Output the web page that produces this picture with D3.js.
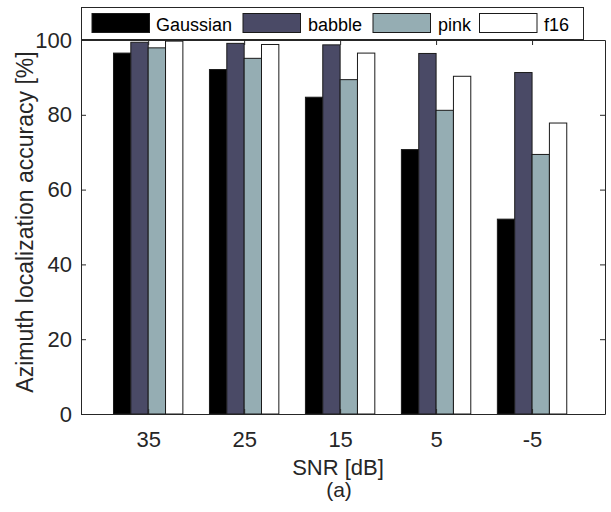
<!DOCTYPE html>
<html>
<head>
<meta charset="utf-8">
<script src="https://cdn.jsdelivr.net/npm/d3@7/dist/d3.min.js"></script>
<style>
  html, body { margin: 0; padding: 0; background: #fff; }
  svg { display: block; font-family: "Liberation Sans", Arial, sans-serif; }
</style>
</head>
<body>
<svg id="chart" width="611" height="512"></svg>
<script>
// SNR conditions (x categories) and accuracy per noise type, in percent
const snrLabels = ["35", "25", "15", "5", "-5"];
const seriesNames = ["Gaussian", "babble", "pink", "f16"];
const gaussian = [96.5, 92.1, 84.7, 70.7, 52.1];
const babble   = [99.4, 99.1, 98.7, 96.4, 91.3];
const pink     = [97.9, 95.1, 89.4, 81.2, 69.4];
const f16      = [99.7, 98.8, 96.5, 90.3, 77.8];
const yTicks   = [0, 20, 40, 60, 80, 100];

const seriesValues = [gaussian, babble, pink, f16];
const seriesFill = ["#000000", "#4a4a66", "#95adb3", "#ffffff"];

const svg = d3.select("#chart");
const axisColor = "#262626";

// plot box
const plotLeft = 81, plotRight = 605, plotTop = 40, plotBottom = 414;

// categories sit on integer positions; the x range leaves a wider gap on the right
const x = d3.scaleLinear().domain([0.3, 5.76]).range([plotLeft, plotRight]);
const y = d3.scaleLinear().domain([0, 100]).range([plotBottom, plotTop]);

const groupWidth = 0.723;              // fraction of category spacing filled by a group
const barW = groupWidth / seriesNames.length;

// bars
const g = svg.append("g");
seriesValues.forEach((vals, s) => {
  g.selectAll(null)
    .data(vals)
    .enter()
    .append("rect")
    .attr("x", (d, i) => x(i + 1 - groupWidth / 2 + s * barW))
    .attr("width", x(barW) - x(0))
    .attr("y", d => y(d))
    .attr("height", d => y(0) - y(d))
    .attr("fill", seriesFill[s])
    .attr("stroke", "#1a1a1a")
    .attr("stroke-width", 1);
});

// axes: box with inward ticks
const tickLen = 5;
const xAxisB = d3.axisBottom(x).tickValues(d3.range(1, 6)).tickFormat((d, i) => snrLabels[i]).tickSizeInner(-tickLen).tickSizeOuter(0).tickPadding(17);
const xAxisT = d3.axisTop(x).tickValues(d3.range(1, 6)).tickFormat("").tickSizeInner(-tickLen).tickSizeOuter(0);
const yAxisL = d3.axisLeft(y).tickValues(yTicks).tickSizeInner(-tickLen).tickSizeOuter(0).tickPadding(9);
const yAxisR = d3.axisRight(y).tickValues(yTicks).tickFormat("").tickSizeInner(-tickLen).tickSizeOuter(0);

function styleAxis(sel) {
  sel.selectAll("path").attr("stroke", axisColor).attr("stroke-width", 1);
  sel.selectAll("line").attr("stroke", axisColor).attr("stroke-width", 1);
  sel.selectAll("text").attr("fill", "#262626").style("font-size", "22px").style("font-family", "'Liberation Sans', Arial, sans-serif");
}

svg.append("g").attr("transform", `translate(0,${plotBottom})`).call(xAxisB).call(styleAxis);
svg.append("g").attr("transform", `translate(0,${plotTop})`).call(xAxisT).call(styleAxis);
svg.append("g").attr("transform", `translate(${plotLeft},0)`).call(yAxisL).call(styleAxis);
svg.append("g").attr("transform", `translate(${plotRight},0)`).call(yAxisR).call(styleAxis);

// axis titles
svg.append("text")
  .attr("x", (plotLeft + plotRight) / 2 - 5)
  .attr("y", 475)
  .attr("text-anchor", "middle")
  .attr("fill", "#262626")
  .style("font-size", "22px")
  .text("SNR [dB]");

svg.append("text")
  .attr("transform", `translate(33,${(plotTop + plotBottom) / 2 - 5}) rotate(-90)`)
  .attr("text-anchor", "middle")
  .attr("fill", "#262626")
  .style("font-size", "23px")
  .text("Azimuth localization accuracy [%]");

svg.append("text")
  .attr("x", 339)
  .attr("y", 497)
  .attr("text-anchor", "middle")
  .attr("fill", "#262626")
  .style("font-size", "21px")
  .text("(a)");

// legend
const legend = svg.append("g");
legend.append("rect")
  .attr("x", 81.5).attr("y", 7.5)
  .attr("width", 502).attr("height", 32)
  .attr("fill", "#fff")
  .attr("stroke", axisColor)
  .attr("stroke-width", 1);

const swatchX = [92, 243, 373, 479.5];
const textX = [156, 308, 438, 544];
seriesNames.forEach((name, s) => {
  legend.append("rect")
    .attr("x", swatchX[s]).attr("y", 13.5)
    .attr("width", 57.5).attr("height", 19)
    .attr("fill", seriesFill[s])
    .attr("stroke", "#1a1a1a")
    .attr("stroke-width", 1);
  legend.append("text")
    .attr("x", textX[s]).attr("y", 31)
    .attr("fill", "#000")
    .style("font-size", "18px")
    .text(name);
});
</script>
</body>
</html>
